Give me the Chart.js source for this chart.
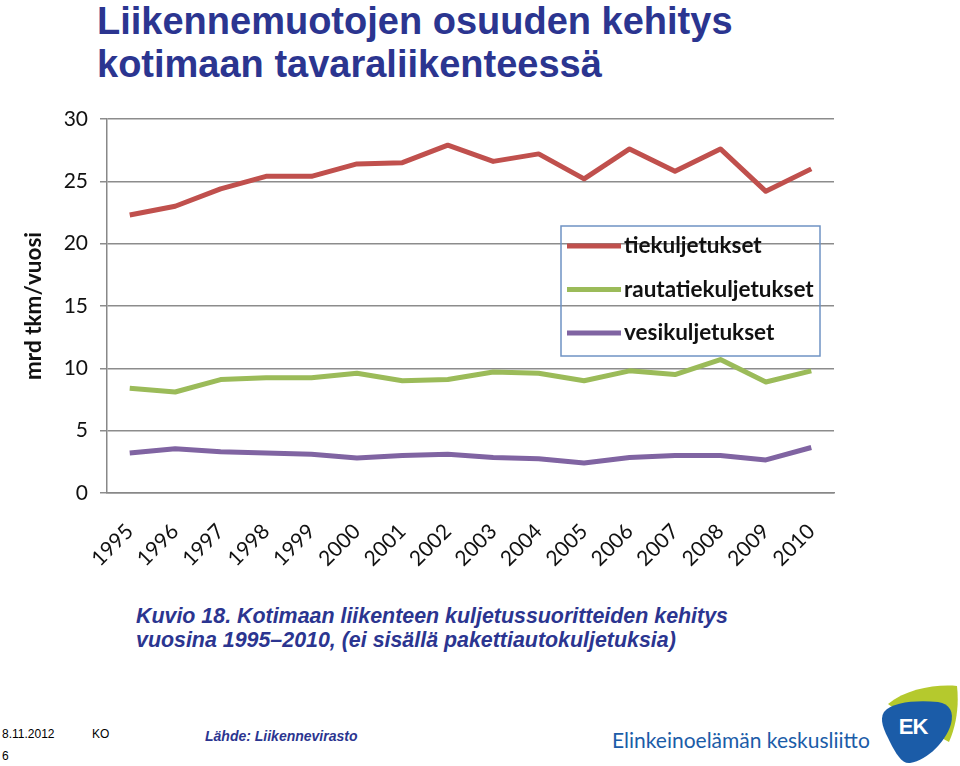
<!DOCTYPE html>
<html lang="fi">
<head>
<meta charset="utf-8">
<title>Liikennemuotojen osuuden kehitys</title>
<script src="https://cdn.jsdelivr.net/npm/chart.js@4.4.1/dist/chart.umd.min.js"></script>
<style>
  html, body { margin: 0; padding: 0; background: #fff; }
  body { width: 960px; height: 766px; position: relative; overflow: hidden; font-family: "Liberation Sans", Arial, sans-serif; }
  .title { position: absolute; left: 97px; top: 0px; color: #2B3590; font-weight: bold; font-size: 38px; line-height: 43px; white-space: nowrap; }
  .chart-box { position: absolute; left: 0; top: 0; width: 960px; height: 600px; }
  .caption { position: absolute; left: 136px; top: 604px; color: #2B3590; font-weight: bold; font-style: italic; font-size: 21.4px; line-height: 24px; white-space: nowrap; }
  .foot { position: absolute; font-size: 12px; color: #000; }
  .source { position: absolute; left: 205px; top: 728px; color: #2B3590; font-weight: bold; font-style: italic; font-size: 14px; }
  .ek-name { position: absolute; left: 612px; top: 727px; color: #1B5CA8; font-family: Lato, "Open Sans", sans-serif; font-size: 21px; }
  .ek-logo { position: absolute; left: 876px; top: 684px; }
</style>
</head>
<body>
<div class="title">Liikennemuotojen osuuden kehitys<br>kotimaan tavaraliikenteessä</div>
<div class="chart-box"><canvas id="chart"></canvas></div>
<div class="caption">Kuvio 18. Kotimaan liikenteen kuljetussuoritteiden kehitys<br>vuosina 1995–2010, (ei sisällä pakettiautokuljetuksia)</div>
<div class="foot" style="left:2px; top:727px;">8.11.2012</div>
<div class="foot" style="left:92px; top:727px;">KO</div>
<div class="foot" style="left:2px; top:749px;">6</div>
<div class="source">Lähde: Liikennevirasto</div>
<div class="ek-name">Elinkeinoelämän keskusliitto</div>
<svg class="ek-logo" width="82" height="82" viewBox="0 0 82 82">
  <path d="M12 20 C30 5 60 0 81 2 C83 20 81 40 73 58 L40 40 Z" fill="#B5C92D"/>
  <path d="M8 28 C16 18 40 16 62 18 C74 20 78 28 75 40 C70 57 52 76 34 79 C26 80 20 70 14 58 C8 46 3 36 8 28 Z" fill="#1B5CA8"/>
  <text x="37" y="50" text-anchor="middle" fill="#fff" font-family="Liberation Sans, Arial" font-weight="bold" font-size="22" style="letter-spacing:-1px">EK</text>
</svg>

<script>
// vuodet ja kuljetussuoritteet (mrd tkm/vuosi)
const years = ['1995', '1996', '1997', '1998', '1999', '2000', '2001', '2002',
               '2003', '2004', '2005', '2006', '2007', '2008', '2009', '2010'];
const seriesNames = ['tiekuljetukset', 'rautatiekuljetukset', 'vesikuljetukset'];
const tieValues = [22.3, 23.0, 24.4, 25.4, 25.4, 26.4, 26.5, 27.9, 26.6, 27.2, 25.2, 27.6, 25.8, 27.6, 24.2, 26.0];
const rautatieValues = [8.4, 8.1, 9.1, 9.25, 9.25, 9.6, 9.0, 9.1, 9.7, 9.6, 9.0, 9.8, 9.5, 10.7, 8.9, 9.8];
const vesiValues = [3.2, 3.55, 3.3, 3.2, 3.1, 2.8, 3.0, 3.1, 2.85, 2.75, 2.4, 2.85, 3.0, 3.0, 2.65, 3.65];
const yTicks = [0, 5, 10, 15, 20, 25, 30];
const yTitle = 'mrd tkm/vuosi';

const colors = ['#C0504D', '#9BBB59', '#8064A2'];
const labelFont = 'Lato, Carlito, Calibri, sans-serif';

// legend drawn inside the plot area, like the original Excel chart
const boxLegend = {
    id: 'boxLegend',
    afterDatasetsDraw(chart) {
        const ctx = chart.ctx;
        ctx.save();
        ctx.strokeStyle = '#6F93C4';
        ctx.lineWidth = 1.5;
        ctx.strokeRect(561, 226, 259, 130);
        chart.data.datasets.forEach(function(ds, i) {
            const y = 246 + i * 43.5;
            ctx.strokeStyle = ds.borderColor;
            ctx.lineWidth = 5;
            ctx.beginPath();
            ctx.moveTo(567, y);
            ctx.lineTo(621, y);
            ctx.stroke();
            ctx.fillStyle = '#111';
            ctx.font = 'bold 22.5px ' + labelFont;
            ctx.textBaseline = 'middle';
            ctx.fillText(ds.label, 624, y);
        });
        ctx.restore();
    }
};

new Chart(document.getElementById('chart'), {
    type: 'line',
    data: {
        labels: years,
        datasets: [
            { label: seriesNames[0], data: tieValues, borderColor: colors[0] },
            { label: seriesNames[1], data: rautatieValues, borderColor: colors[1] },
            { label: seriesNames[2], data: vesiValues, borderColor: colors[2] }
        ].map(ds => Object.assign(ds, { borderWidth: 5, pointRadius: 0, tension: 0, fill: false, borderJoinStyle: 'round' }))
    },
    options: {
        responsive: true,
        maintainAspectRatio: false,
        animation: false,
        layout: { padding: { left: 20, top: 119, right: 126, bottom: 0 } },
        plugins: {
            legend: { display: false },
            tooltip: { enabled: false }
        },
        scales: {
            x: {
                offset: true,
                afterFit: function(scale) { scale.height = 600 - 493; },
                grid: { drawOnChartArea: false, drawTicks: false, color: '#888' },
                border: { color: '#888', width: 1.5 },
                ticks: {
                    maxRotation: 45,
                    minRotation: 45,
                    padding: 26,
                    color: '#111',
                    font: { family: labelFont, size: 21 }
                }
            },
            y: {
                min: 0,
                max: 30,
                afterFit: function(scale) { scale.width = 107 - 20; },
                afterBuildTicks: function(scale) { scale.ticks = yTicks.map(v => ({ value: v })); },
                grid: { color: '#8c8c8c', lineWidth: 1.5, tickLength: 7 },
                border: { color: '#888', width: 1.5 },
                ticks: {
                    padding: 12,
                    color: '#111',
                    font: { family: labelFont, size: 21 }
                },
                title: {
                    display: true,
                    text: yTitle,
                    color: '#111',
                    padding: 0,
                    font: { family: labelFont, size: 22.5, weight: 'bold' }
                }
            }
        }
    },
    plugins: [boxLegend]
});
</script>
</body>
</html>
